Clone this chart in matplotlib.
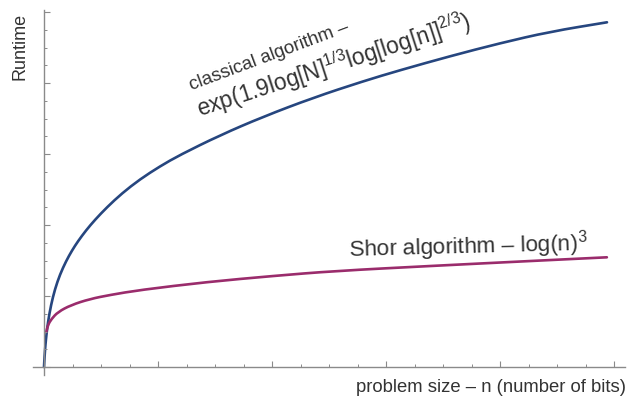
import numpy as np
from matplotlib import pyplot as plt
from matplotlib.path import Path
from matplotlib.patches import PathPatch

plt.rcParams['font.family'] = ['Liberation Sans', 'DejaVu Sans']
plt.rcParams['mathtext.fontset'] = 'custom'
plt.rcParams['mathtext.rm'] = 'Liberation Sans'
plt.rcParams['mathtext.it'] = 'Liberation Sans'

#-----values (x in minor x-ticks, y in minor y-ticks)-----#
classical_n = [0, 0.021, 0.049, 0.088, 0.14, 0.246, 0.386, 0.561, 0.772, 0.982,
               1.193, 1.474, 1.789, 2.211, 2.737, 3.368, 4.07, 4.772, 6.175, 7.684,
               9.439, 11.193, 12.491, 14.246, 16.0, 17.754, 19.754]
classical_t = [0, 0.62, 1.239, 1.859, 2.535, 3.493, 4.394, 5.211, 5.955, 6.563,
               7.087, 7.696, 8.293, 9.003, 9.786, 10.575, 11.307, 11.949, 13.054, 14.096,
               15.166, 16.096, 16.721, 17.51, 18.242, 18.89, 19.42]

shor_n = [0.08, 0.14, 0.26, 0.49, 0.95, 1.61, 2.32, 3.37, 5.72, 8.04, 10.21, 13.54, 17.05, 19.75]
shor_t = [1.97, 2.37, 2.70, 3.10, 3.49, 3.83, 4.06, 4.34, 4.79, 5.13, 5.41, 5.69, 5.97, 6.18]


def smooth_curve(ax, xs, ys, color):
    # quadratic B-spline through the read points: each point is a control
    # point, the curve runs through the midpoints, so no sharp corners
    pts = np.column_stack([xs, ys])
    mids = (pts[:-1] + pts[1:]) / 2
    verts = [pts[0], mids[0]]
    codes = [Path.MOVETO, Path.LINETO]
    for i in range(1, len(pts) - 1):
        verts += [pts[i], mids[i]]
        codes += [Path.CURVE3, Path.CURVE3]
    verts.append(pts[-1])
    codes.append(Path.LINETO)
    ax.add_patch(PathPatch(Path(verts, codes), fill=False, edgecolor=color,
                           lw=1.9, capstyle='round', joinstyle='round'))


W, H = 632, 400
fig = plt.figure(figsize=(W/100, H/100), dpi=100)

# axes box: origin at pixel (44, 367), 28.5 px per x unit, 17.75 px per y unit
x0, y0, sx, sy = 44, 367, 28.5, 17.75
xlo, xhi, ylo, yhi = -0.4, 20.4, -0.45, 20.1
ax = fig.add_axes([(x0 + xlo*sx)/W, 1 - (y0 - ylo*sy)/H,
                   (xhi - xlo)*sx/W, (yhi - ylo)*sy/H])
ax.set_xlim(xlo, xhi)
ax.set_ylim(ylo, yhi)

smooth_curve(ax, classical_n, classical_t, '#26467f')
smooth_curve(ax, shor_n, shor_t, '#9a2c6c')

for side in ['top', 'right']:
    ax.spines[side].set_visible(False)
for side in ['left', 'bottom']:
    ax.spines[side].set_position(('data', 0))
    ax.spines[side].set_color('#8a8a8a')
    ax.spines[side].set_linewidth(1.0)

ax.set_xticks(np.arange(0, 21, 4))
ax.set_xticks(np.arange(0, 21, 1), minor=True)
ax.set_yticks(np.arange(0, 21, 4))
ax.set_yticks(np.arange(0, 21, 1), minor=True)
ax.set_xticklabels([])
ax.set_yticklabels([])
ax.tick_params(which='major', direction='in', length=4, width=0.8, color='#8a8a8a')
ax.tick_params(which='minor', direction='in', length=2.3, width=0.7, color='#8a8a8a')
ax.patch.set_alpha(0)

txt = '#333333'
fig.text(20/W, 1 - 46/H, 'Runtime', rotation=90, ha='center', va='center',
         fontsize=13, color=txt)
fig.text(491/W, 1 - 387/H, 'problem size – n (number of bits)', ha='center', va='center',
         fontsize=13.3, color=txt)
fig.text(349/W, 1 - 257/H, r'Shor algorithm – log(n)$^3$', ha='left', va='baseline',
         rotation=1.5, rotation_mode='anchor', fontsize=16.2, color=txt)
fig.text(192/W, 1 - 90/H, 'classical algorithm –', ha='left', va='baseline',
         rotation=20.5, rotation_mode='anchor', fontsize=13.6, color=txt)
fig.text(200/W, 1 - 117/H, r'exp(1.9log[N]$^{1/3}$log[log[n]]$^{2/3}$)', ha='left', va='baseline',
         rotation=18, rotation_mode='anchor', fontsize=16.3, color=txt)

fig.savefig('out.png', dpi=100)
